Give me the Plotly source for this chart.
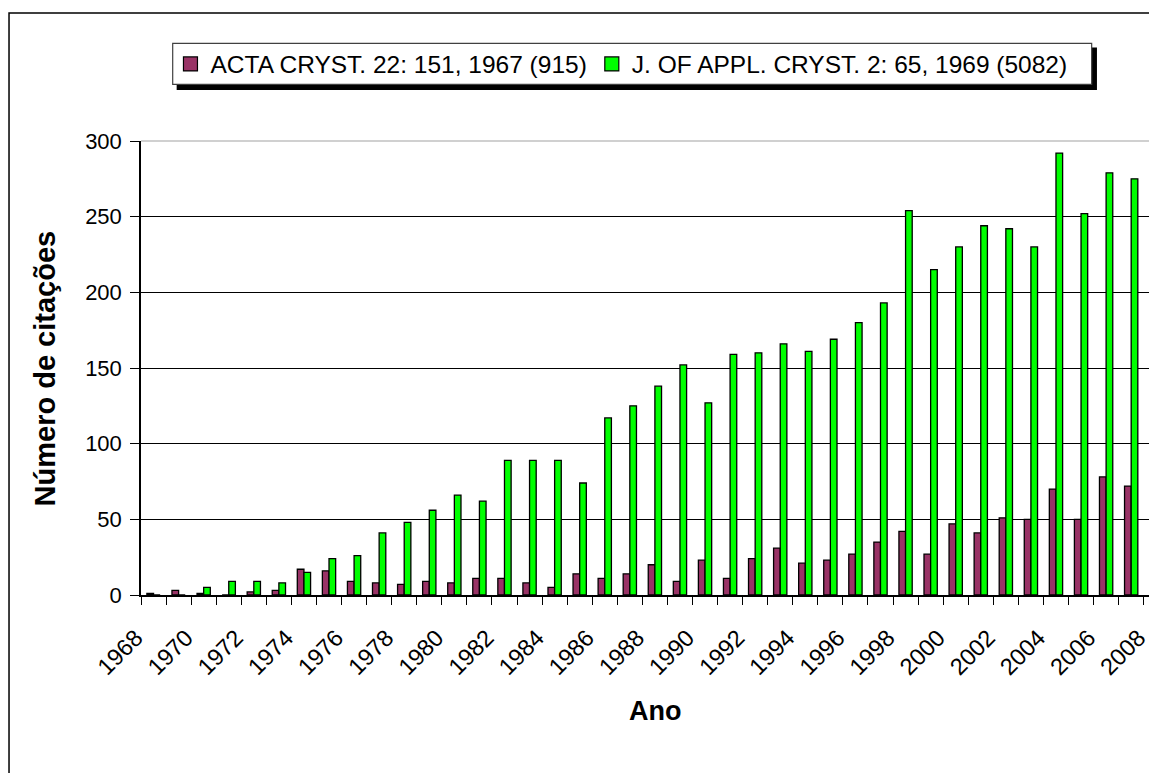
"""
Citations per year of the two Rietveld papers (Excel-style grouped bars).
"""

import plotly.graph_objects as go

PURPLE = '#993366'
GREEN = '#00FF00'
FONT = 'Arial, Liberation Sans, sans-serif'

years = list(range(1968, 2009))

acta_cryst = [
    1, 3, 1, 0, 2, 3, 17, 16, 9, 8,
    7, 9, 8, 11, 11, 8, 5, 14, 11, 14,
    20, 9, 23, 11, 24, 31, 21, 23, 27, 35,
    42, 27, 47, 41, 51, 50, 70, 50, 78, 72,
    0,
]
j_appl_cryst = [
    0, 0, 5, 9, 9, 8, 15, 24, 26, 41,
    48, 56, 66, 62, 89, 89, 89, 74, 117, 125,
    138, 152, 127, 159, 160, 166, 161, 169, 180, 193,
    254, 215, 230, 244, 242, 230, 292, 252, 279, 275,
    10,
]

series_names = [
    'ACTA CRYST. 22: 151, 1967 (915)',
    'J. OF APPL. CRYST. 2: 65, 1969 (5082)',
]

# ticks sit on category boundaries, labels every second year
tick_vals = [y - 0.5 for y in years]
tick_text = [str(y) if y % 2 == 0 else '' for y in years]

fig = go.Figure()
for name, values, color in [
    (series_names[0], acta_cryst, PURPLE),
    (series_names[1], j_appl_cryst, GREEN),
]:
    fig.add_trace(go.Bar(
        x=years, y=values, name=name, showlegend=False,
        marker_color=color, marker_line_color='black', marker_line_width=1.3,
    ))
    # square legend swatch like Excel's
    fig.add_trace(go.Scatter(
        x=[None], y=[None], mode='markers', name=name,
        marker=dict(symbol='square', size=14, color=color,
                    line=dict(color='black', width=1.2)),
    ))

# page body has an 8px margin, so the figure is 8px smaller than the window
fig.update_layout(
    width=1149, height=765,
    margin=dict(l=133, r=0, t=133, b=178),
    paper_bgcolor='white', plot_bgcolor='white',
    barmode='group', bargap=0.47, bargroupgap=0,
    font=dict(family=FONT, color='black'),
    legend=dict(
        orientation='h', x=0.029, xanchor='left', y=1.1696, yanchor='middle',
        bgcolor='rgba(0,0,0,0)', borderwidth=0, itemsizing='trace',
        font=dict(size=24.5, family=FONT), traceorder='normal',
    ),
)

fig.update_xaxes(
    range=[1967.5, 2008.03], tickmode='array',
    tickvals=tick_vals, ticktext=tick_text, tickangle=-45,
    ticks='outside', ticklen=8, tickwidth=1.2, tickcolor='black',
    ticklabelstandoff=10, ticklabelshift=-5,
    showline=True, linecolor='black', linewidth=1.5,
    showgrid=False, zeroline=False,
    tickfont=dict(size=23.5, family=FONT),
)
fig.update_yaxes(
    range=[0, 300], dtick=50,
    ticks='outside', ticklen=9, tickwidth=1.2, tickcolor='black',
    ticklabelstandoff=4,
    showline=True, linecolor='black', linewidth=1.5,
    showgrid=True, gridcolor='black', gridwidth=1.2, zeroline=False,
    tickfont=dict(size=22, family=FONT),
)

# axis titles
fig.add_annotation(
    text='<b>Ano</b>', xref='paper', yref='paper', x=0.506, y=-0.255,
    xanchor='center', yanchor='middle', showarrow=False,
    font=dict(size=27, family=FONT),
)
fig.add_annotation(
    text='<b>Número de citações</b>', xref='paper', yref='paper', x=-0.0945, y=0.499,
    xanchor='center', yanchor='middle', textangle=-90, showarrow=False,
    font=dict(size=29, family=FONT),
)

# plot area border on top (grey) and outer chart border
fig.add_shape(type='line', xref='paper', yref='paper', x0=0, x1=1.01, y0=1, y1=1,
              line=dict(color='#c0c0c0', width=1.5), layer='above')
fig.add_shape(type='path', xref='paper', yref='paper',
              path='M -0.1299,-0.45 L -0.1299,1.282 L 1.02,1.282',
              line=dict(color='black', width=1.5))
# legend box with drop shadow
fig.add_shape(type='rect', xref='paper', yref='paper',
              x0=0.0351, x1=0.9409, y0=1.1123, y1=1.2059,
              fillcolor='black', line_width=0)
fig.add_shape(type='rect', xref='paper', yref='paper',
              x0=0.0312, x1=0.9357, y0=1.1249, y1=1.2152,
              fillcolor='white', line=dict(color='#404040', width=1.2))

fig.write_html('out.html')
